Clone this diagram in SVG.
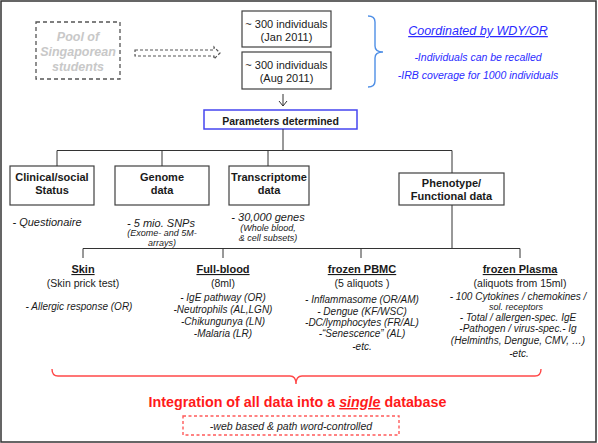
<svg xmlns="http://www.w3.org/2000/svg" width="598" height="443" viewBox="0 0 598 443">
<style>
text{font-family:"Liberation Sans",Arial,sans-serif;fill:#1a1a1a;text-anchor:middle}
.box{fill:#fff;stroke:#404040;stroke-width:1.2}
.b{font-weight:bold;font-size:11px}
.r{font-size:10.5px}
.s{font-size:11px}
.i{font-style:italic;font-size:10px}
.ib{font-style:italic;font-size:11px}
.sm{font-style:italic;font-size:9px}
.ul{text-decoration:underline}
.blue{fill:#2b2bff;font-style:italic}
.con{fill:none;stroke:#333;stroke-width:1}
</style>
<rect x="1" y="1" width="595" height="441" fill="#fff" stroke="#333" stroke-width="1.5"/>

<g id="pool">
<rect x="36" y="22" width="84" height="57" fill="none" stroke="#555" stroke-width="1.3" stroke-dasharray="4,3"/>
<text x="78" y="41" style="font-weight:bold;font-style:italic;font-size:12.5px;fill:#c8c8c8">Pool of</text>
<text x="78" y="56" style="font-weight:bold;font-style:italic;font-size:12.5px;fill:#c8c8c8">Singaporean</text>
<text x="78" y="71" style="font-weight:bold;font-style:italic;font-size:12.5px;fill:#c8c8c8">students</text>
</g>

<g id="jan">
<rect class="box" x="242" y="11" width="89" height="36"/>
<text class="s" x="286.5" y="28">~ 300 individuals</text>
<text class="s" x="286.5" y="41">(Jan 2011)</text>
</g>
<g id="aug">
<rect class="box" x="242" y="52" width="89" height="37"/>
<text class="s" x="286.5" y="69">~ 300 individuals</text>
<text class="s" x="286.5" y="82">(Aug 2011)</text>
</g>

<g id="coord">
<path d="M368,16 Q375,16 375,22 L375,46 Q375,52 383,52 Q375,52 375,58 L375,81 Q375,87 368,87" fill="none" stroke="#4f8fe6" stroke-width="1.4"/>
<text class="blue ul" x="478" y="35" style="font-size:12.5px">Coordinated by WDY/OR</text>
<text class="blue" x="478" y="61" style="font-size:10.5px">-Individuals can be recalled</text>
<text class="blue" x="478" y="79" style="font-size:10.5px">-IRB coverage for 1000 individuals</text>
</g>

<g id="params">
<rect x="204" y="110" width="153" height="19" fill="#fff" stroke="#4646f0" stroke-width="1.5"/>
<text x="280.5" y="124.5" style="font-weight:bold;font-size:10.5px">Parameters determined</text>
</g>

<g id="clinical">
<rect class="box" x="10" y="166" width="84" height="39"/>
<text class="b" x="52" y="181">Clinical/social</text>
<text class="b" x="52" y="194">Status</text>
<text class="ib" x="47" y="226">- Questionaire</text>
</g>
<g id="genome">
<rect class="box" x="115" y="166" width="94" height="39"/>
<text class="b" x="162" y="181">Genome</text>
<text class="b" x="162" y="194">data</text>
<text class="ib" x="161" y="227">- 5 mio. SNPs</text>
<text class="sm" x="162" y="236">(Exome- and 5M-</text>
<text class="sm" x="162" y="246">arrays)</text>
</g>
<g id="transcriptome">
<rect class="box" x="229" y="166" width="80" height="39"/>
<text class="b" x="269" y="181">Transcriptome</text>
<text class="b" x="269" y="194">data</text>
<text class="ib" x="268" y="221">- 30,000 genes</text>
<text class="sm" x="268" y="231">(Whole blood,</text>
<text class="sm" x="268" y="241">&amp; cell subsets)</text>
</g>
<g id="phenotype">
<rect class="box" x="399" y="173" width="105" height="32"/>
<text class="b" x="451.5" y="187">Phenotype/</text>
<text class="b" x="451.5" y="200">Functional data</text>
</g>

<g id="skin">
<text class="b ul" x="83" y="273">Skin</text>
<text class="r" x="83" y="287">(Skin prick test)</text>
<text class="i" x="79" y="310">- Allergic response (OR)</text>
</g>
<g id="fullblood">
<text class="b ul" x="223" y="273">Full-blood</text>
<text class="r" x="223" y="287">(8ml)</text>
<text class="i" x="223" y="301">- IgE pathway (OR)</text>
<text class="i" x="223" y="313">-Neutrophils (AL,LGN)</text>
<text class="i" x="223" y="325">-Chikungunya (LN)</text>
<text class="i" x="223" y="337">-Malaria (LR)</text>
</g>
<g id="pbmc">
<text class="b ul" x="362" y="273">frozen PBMC</text>
<text class="r" x="362" y="287">(5 aliquots )</text>
<text class="i" x="362" y="302.5">- Inflammasome (OR/AM)</text>
<text class="i" x="362" y="314.5">- Dengue (KF/WSC)</text>
<text class="i" x="362" y="325.5">-DC/lymphocytes (FR/AL)</text>
<text class="i" x="362" y="336.5">-“Senescence” (AL)</text>
<text class="i" x="362" y="349.5">-etc.</text>
</g>
<g id="plasma">
<text class="b ul" x="520" y="273">frozen Plasma</text>
<text class="r" x="520" y="287">(aliquots from 15ml)</text>
<text class="i" x="518" y="299.5">- 100 Cytokines / chemokines /</text>
<text class="i" x="516" y="310" style="font-size:9px">sol. receptors</text>
<text class="i" x="518" y="321">- Total / allergen-spec. IgE</text>
<text class="i" x="518" y="332">-Pathogen / virus-spec.- Ig</text>
<text class="i" x="518" y="343.5">(Helminths, Dengue, CMV, …)</text>
<text class="i" x="519" y="357">-etc.</text>
</g>

<g id="integration">
<path d="M52,369 Q52,376 58,376 L290,376 Q296,376 296,384 Q296,376 302,376 L535,376 Q541,376 541,369" fill="none" stroke="#ff4848" stroke-width="1.4"/>
<text x="297.5" y="407" style="font-weight:bold;font-size:14.3px;fill:#ff1a1a">Integration of all data into a <tspan style="font-style:italic;text-decoration:underline">single</tspan> database</text>
<rect x="183" y="416" width="216" height="19" fill="none" stroke="#ff5a5a" stroke-width="1.4" stroke-dasharray="3,2.5"/>
<text x="291" y="429.5" style="font-style:italic;font-size:10.5px;fill:#222">-web based &amp; path word-controlled</text>
</g>

<g id="connectors">
<polygon points="135,50 214,50 214,47 220,53 214,59 214,56 135,56" fill="none" stroke="#555" stroke-width="1.2" stroke-dasharray="3,2"/>
<path class="con" d="M283,94 L283,106 M279,101 L283,106 L287,101"/>
<path class="con" d="M283,129 V150.5 M57,150.5 H452 M57,150.5 V166 M162,150.5 V166 M268,150.5 V166 M452,150.5 V173"/>
<path class="con" d="M452,205 V248.5 M83,248.5 H520 M83,248.5 V258 M223,248.5 V258 M361,248.5 V258 M520,248.5 V258"/>
</g>
</svg>
